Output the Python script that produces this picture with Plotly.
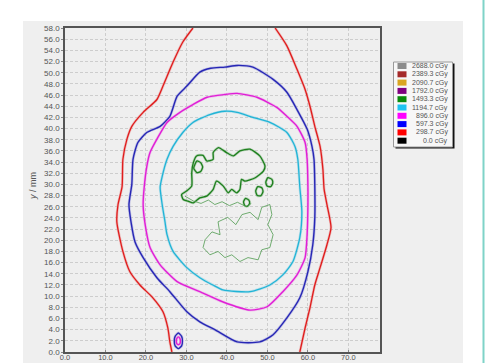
import plotly.graph_objects as go

# ---- isodose levels (legend) ----
LEVELS = [2688.0, 2389.3, 2090.7, 1792.0, 1493.3, 1194.7, 896.0, 597.3, 298.7, 0.0]
LEVEL_COLORS = ["#8c8c8c", "#a52a2a", "#d9a521", "#800080", "#0a8a0a",
                "#1ec3f0", "#ff00ff", "#0000ff", "#ff0000", "#000000"]

# ---- contour paths (x / mm, y / mm); None separates pieces ----
red_x = [31.6, 29.1, 26.7, 24.2, 22.7, 19.3, 16.5, 15.3, 14.3, 14.1, 13.1, 12.8, 14.3, 16.0,
         18.5, 21.7, 24.2, 25.4, 25.9, 26.4, None,
         51.9, 54.8, 57.3, 59.3, 60.5, 61.7, 63.0, 63.7, 64.0, 64.7, 65.7, 64.7, 63.0, 61.7,
         60.5, 59.3, 58.0]
red_y = [58.0, 55.5, 51.9, 47.6, 45.2, 42.9, 40.4, 38.1, 34.5, 29.6, 26.4, 23.3, 18.0, 14.4,
         12.0, 9.7, 7.2, 4.3, 1.8, 0.0, None,
         58.0, 54.8, 50.6, 47.0, 44.0, 40.4, 36.8, 32.7, 29.1, 26.4, 22.3, 19.2, 15.1, 12.0,
         7.9, 4.3, 0.0]

blue_x = [39.5, 36.0, 33.3, 30.1, 27.7, 25.9, 23.5, 20.2, 18.0, 16.8, 16.5, 15.8, 16.3, 17.3,
          19.3, 22.7, 25.9, 30.1, 33.3, 37.0, 42.5, 48.1, 51.4, 54.8, 58.0, 60.0, 61.2, 61.7,
          61.7, 61.5, 61.0, 59.8, 57.3, 54.8, 51.4, 46.4, 42.5, 39.5, None,
          28.0, 28.8, 29.0, 28.8, 28.0, 27.2, 27.0, 27.2, 28.0]
blue_y = [51.0, 50.8, 50.1, 47.6, 45.8, 42.2, 40.4, 39.3, 37.5, 34.5, 30.0, 26.4, 23.3, 19.7,
          16.9, 13.3, 10.8, 7.2, 5.4, 4.0, 1.8, 1.8, 3.1, 6.1, 9.7, 14.4, 19.2, 24.1,
          29.5, 34.5, 36.8, 39.9, 43.4, 46.5, 48.8, 51.0, 51.3, 51.0, None,
          3.4, 2.8, 2.0, 1.1, 0.6, 1.1, 2.0, 2.8, 3.4]

magenta_x = [39.5, 35.1, 31.6, 28.4, 25.2, 22.7, 21.0, 20.2, 19.6, 19.3, 19.8, 21.0, 23.5,
             27.7, 33.3, 38.9, 45.7, 49.9, 53.8, 57.3, 59.3, 59.8, 60.0, 60.0, 59.8, 59.3,
             57.3, 54.8, 52.3, 47.4, 42.5, 39.5, None,
             28.0, 28.4, 28.5, 28.4, 28.0, 27.6, 27.5, 27.6, 28.0]
magenta_y = [46.1, 45.6, 44.3, 42.9, 41.1, 38.1, 35.7, 33.2, 29.8, 26.4, 22.8, 18.7, 15.6,
             12.6, 10.8, 9.0, 7.5, 8.1, 10.8, 13.8, 16.9, 21.0, 26.4, 29.5, 34.5, 37.5,
             40.4, 42.2, 43.8, 45.6, 46.3, 46.1, None,
             2.7, 2.4, 2.0, 1.5, 1.3, 1.5, 2.0, 2.4, 2.7]

cyan_x = [39.5, 35.8, 31.6, 29.1, 26.7, 25.2, 24.0, 23.5, 24.0, 24.7, 25.2, 26.7, 30.1, 33.3,
          36.5, 39.0, 45.7, 50.6, 53.8, 56.3, 58.0, 58.5, 58.0, 57.5, 56.8, 54.8, 50.6, 46.4,
          42.5, 39.5]
cyan_y = [43.1, 42.5, 41.1, 39.3, 36.8, 34.5, 31.4, 29.5, 26.4, 23.3, 21.0, 18.0, 15.1, 13.3,
          12.0, 11.1, 10.8, 12.0, 13.8, 16.2, 20.5, 25.1, 29.5, 34.5, 36.8, 39.3, 41.1, 42.0,
          42.9, 43.1]

green_x = [28.8, 30.0, 31.3, 31.3, 31.7, 32.5, 34.1, 35.0, 36.6, 36.6, 37.9, 39.9, 41.6, 43.2,
           45.7, 48.1, 49.4, 49.0, 47.0, 44.4, 43.6, 43.2, 42.4, 41.2, 40.3, 39.1, 37.4, 36.6,
           35.0, 33.3, 31.7, 30.4, 29.2, 28.8, None,
           32.6, 33.5, 34.0, 33.5, 32.6, 31.8, 32.6, None,
           47.6, 48.6, 48.9, 48.4, 47.5, 47.1, 47.6, None,
           50.1, 51.1, 51.3, 50.8, 49.9, 49.6, 50.1, None,
           44.6, 45.4, 45.6, 45.1, 44.4, 44.1, 44.6]
green_y = [28.2, 28.8, 29.7, 32.1, 33.9, 35.1, 35.2, 34.2, 34.5, 35.7, 36.6, 35.7, 35.1, 36.0,
           36.3, 35.1, 33.3, 32.4, 31.2, 30.6, 30.9, 29.1, 28.5, 29.1, 28.5, 29.7, 30.6, 29.1,
           27.9, 27.6, 26.7, 27.0, 27.3, 28.2, None,
           34.2, 33.9, 33.1, 32.3, 32.1, 32.9, 34.2, None,
           29.6, 29.4, 28.7, 28.0, 28.0, 28.8, 29.6, None,
           31.2, 30.9, 30.2, 29.6, 29.7, 30.4, 31.2, None,
           27.5, 27.2, 26.6, 26.1, 26.2, 26.9, 27.5]

green_thin_x = [34.6, 36.3, 38.3, 37.8, 40.2, 42.2, 43.7, 45.7, 47.7, 48.6, 50.6, 51.1, 50.1,
                51.4, 50.6, 48.6, 47.7, 45.2, 43.2, 41.2, 39.5, 37.8, 35.8, 34.1, 34.6, None,
                29.6, 31.8, 33.6, 35.4, 37.0, 38.8, 40.6, 42.6, 44.8, 46.0]
green_thin_y = [20.1, 21.5, 21.0, 23.3, 24.1, 22.8, 24.6, 25.0, 23.7, 25.9, 26.4, 24.6, 22.8,
                21.0, 18.7, 18.3, 16.5, 16.9, 16.2, 17.4, 16.9, 18.0, 17.4, 18.7, 20.1, None,
                27.9, 27.0, 26.6, 27.2, 26.4, 26.9, 26.2, 26.8, 26.0, 26.6]

# ---- drawing styles per contour ----
contours = [
    (red_x, red_y, "#e01c1c", "rgba(230,130,130,0.45)", 1.3),
    (blue_x, blue_y, "#2727b5", "rgba(140,140,215,0.45)", 1.4),
    (magenta_x, magenta_y, "#e01fd6", "rgba(235,140,230,0.45)", 1.4),
    (cyan_x, cyan_y, "#21b4d6", "rgba(140,210,230,0.5)", 1.3),
    (green_x, green_y, "#1d7f1d", "rgba(120,180,120,0.45)", 1.3),
]

fig = go.Figure()
for xs, ys, col, halo, w in contours:
    fig.add_trace(go.Scatter(x=xs, y=ys, mode="lines",
                             line=dict(color=halo, width=w + 1.4, shape="spline", smoothing=0.6),
                             hoverinfo="skip", showlegend=False))
    fig.add_trace(go.Scatter(x=xs, y=ys, mode="lines",
                             line=dict(color=col, width=w, shape="spline", smoothing=0.6),
                             showlegend=False))
fig.add_trace(go.Scatter(x=green_thin_x, y=green_thin_y, mode="lines",
                         line=dict(color="#4f9a4f", width=0.8), showlegend=False))

FONT = "Liberation Sans, Arial, sans-serif"
L, R, T, B = 65, 380, 28, 352
W, H = 495, 363
PW, PH = R - L, B - T


def px(xp):
    return (xp - L) / PW


def py(yp):
    return (B - yp) / PH


shapes = [
    # gray panel behind the chart
    dict(type="rect", xref="paper", yref="paper", x0=px(23), x1=px(463), y0=py(380), y1=py(21),
         fillcolor="#efefef", line=dict(width=0), layer="below"),
    # teal divider on the right
    dict(type="line", xref="paper", yref="paper", x0=px(483.5), x1=px(483.5), y0=py(370), y1=py(-5),
         line=dict(color="#7fd3c8", width=2)),
    # legend shadow and box
    dict(type="rect", xref="paper", yref="paper", x0=px(395.5), x1=px(454.5), y0=py(148.5), y1=py(63.5),
         fillcolor="#111111", line=dict(width=0)),
    dict(type="rect", xref="paper", yref="paper", x0=px(393.5), x1=px(452.5), y0=py(147), y1=py(62),
         fillcolor="#f7f7f7", line=dict(color="#9a9a9a", width=1)),
]
annotations = []
row0, step = 66.0, 8.3
for i, (lv, c) in enumerate(zip(LEVELS, LEVEL_COLORS)):
    yc = row0 + i * step
    shapes.append(dict(type="rect", xref="paper", yref="paper", x0=px(397.5), x1=px(406.5),
                       y0=py(yc + 3), y1=py(yc - 3), fillcolor=c, line=dict(width=0)))
    annotations.append(dict(xref="paper", yref="paper", x=px(449.5), y=py(yc), text=f"{lv:.1f} cGy",
                            showarrow=False, xanchor="right", yanchor="middle",
                            font=dict(family=FONT, size=7, color="#555555")))

annotations.append(dict(xref="paper", yref="paper", x=px(33), y=py(186), text="<i>y</i> / mm",
                        textangle=-90, showarrow=False, xanchor="center", yanchor="middle",
                        font=dict(family=FONT, size=9, color="#555555")))

axis_common = dict(showgrid=True, gridcolor="#cdcdcd", griddash="3px,2px", gridwidth=1,
                   showline=True, linecolor="#555555", linewidth=1.5, mirror=True,
                   zeroline=False, automargin=False, tickformat=".1f",
                   tickcolor="#888888", ticklen=2)

fig.update_layout(
    width=W, height=H,
    margin=dict(l=L, r=W - R, t=T, b=H - B, pad=0),
    paper_bgcolor="white", plot_bgcolor="#f0f0f0",
    xaxis=dict(range=[0, 77.8], dtick=10, tick0=0, ticks="inside", ticklabelstandoff=-3,
               tickfont=dict(family=FONT, size=7.5, color="#555555"), **axis_common),
    yaxis=dict(range=[0, 58], dtick=2, tick0=0, ticks="outside",
               tickfont=dict(family=FONT, size=8, color="#555555"), **axis_common),
    shapes=shapes, annotations=annotations, showlegend=False,
)

fig.write_html("out.html")
